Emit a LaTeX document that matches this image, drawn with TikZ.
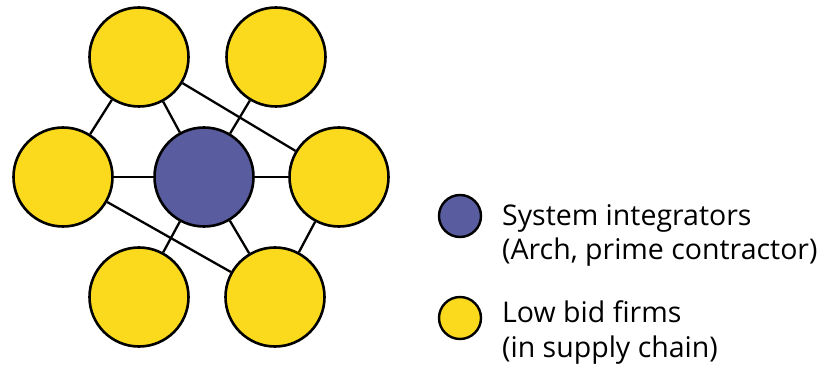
\documentclass[tikz,border=0pt]{standalone}
\usepackage{fontspec}
\setmainfont{Open Sans}
\definecolor{firmyellow}{RGB}{251,218,30}
\definecolor{integratorblue}{RGB}{89,92,158}
\tikzset{
  firm/.style={circle, draw=black, line width=2.6pt, fill=firmyellow,
    minimum size=99pt, inner sep=0pt},
  integrator/.style={firm, fill=integratorblue},
  keydot/.style={minimum size=42pt, line width=2.4pt},
  link/.style={line width=2.3pt},
  keytext/.style={anchor=base west, align=left, inner sep=0pt,
    font=\fontsize{28.5}{35}\selectfont},
}
\begin{document}
\begin{tikzpicture}[x=1pt,y=-1pt]
  \useasboundingbox (0,0) rectangle (824,371);

  % network
  \node[integrator] (hub) at (204,177) {};
  \node[firm] (topleft) at (139,57) {};
  \node[firm] (topright) at (276,57) {};
  \node[firm] (left) at (63,177) {};
  \node[firm] (right) at (339,177) {};
  \node[firm] (botleft) at (139,297) {};
  \node[firm] (botright) at (275,297) {};

  \draw[link] (topleft) -- (left);
  \draw[link] (topleft) -- (hub);
  \draw[link] (topleft) -- (right);
  \draw[link] (topright) -- (hub);
  \draw[link] (left) -- (hub);
  \draw[link] (hub) -- (right);
  \draw[link] (left) -- (botright);
  \draw[link] (hub) -- (botleft);
  \draw[link] (hub) -- (botright);
  \draw[link] (right) -- (botright);

  % legend
  \node[integrator, keydot] (keyhub) at (460,216) {};
  \node[keytext] (keyhubtext) at (502,260) {System integrators\\(Arch, prime contractor)};
  \node[firm, keydot] (keyfirm) at (460,318) {};
  \node[keytext] (keyfirmtext) at (502,357) {Low bid firms\\(in supply chain)};
\end{tikzpicture}
\end{document}
